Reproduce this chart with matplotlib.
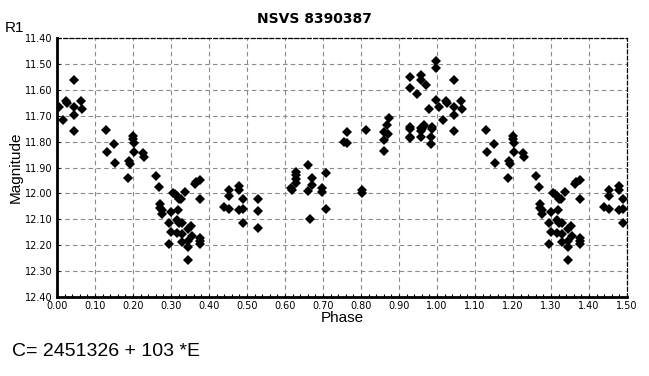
import matplotlib
matplotlib.use("Agg")
import matplotlib.pyplot as plt
from matplotlib.ticker import MultipleLocator
import numpy as np

# phase in [0, 1) and R1 magnitude
phase = [
    0.006, 0.015, 0.024, 0.026, 0.044, 0.044, 0.046, 0.046, 0.064, 0.065,
    0.130, 0.131, 0.151, 0.152, 0.188, 0.190, 0.191, 0.201, 0.201, 0.202,
    0.202, 0.227, 0.228, 0.260, 0.268, 0.270, 0.270, 0.275, 0.277, 0.299,
    0.296, 0.299, 0.296, 0.306, 0.311, 0.317, 0.320, 0.327, 0.318, 0.336,
    0.317, 0.322, 0.329, 0.317, 0.329, 0.329, 0.346, 0.352, 0.346, 0.346,
    0.346, 0.356, 0.362, 0.367, 0.375, 0.375, 0.375, 0.375, 0.375, 0.439,
    0.453, 0.452, 0.452, 0.480, 0.480, 0.480, 0.490, 0.490, 0.490, 0.529,
    0.529, 0.529, 0.617, 0.618, 0.628, 0.628, 0.628, 0.628, 0.660, 0.660,
    0.670, 0.670, 0.665, 0.698, 0.698, 0.707, 0.707, 0.755, 0.763, 0.762,
    0.803, 0.803, 0.812, 0.860, 0.860, 0.860, 0.869, 0.873, 0.871, 0.928,
    0.928, 0.948, 0.959, 0.959, 0.970, 0.997, 0.997, 0.997, 0.978, 0.928,
    0.928, 0.928, 0.928, 0.957, 0.957, 0.957, 0.963, 0.967, 0.960, 0.988,
    0.988, 0.985, 0.985,
]
mag = [
    11.666, 11.717, 11.643, 11.650, 11.562, 11.665, 11.697, 11.759, 11.643, 11.675,
    11.755, 11.841, 11.809, 11.883, 11.939, 11.874, 11.886, 11.780, 11.791, 11.805,
    11.840, 11.845, 11.861, 11.933, 11.975, 12.040, 12.055, 12.064, 12.078, 12.072,
    12.114, 12.149, 12.195, 11.997, 12.004, 12.010, 12.023, 12.023, 12.064, 11.994,
    12.103, 12.113, 12.115, 12.151, 12.158, 12.186, 12.138, 12.126, 12.183, 12.206,
    12.256, 12.164, 11.962, 11.956, 11.950, 12.023, 12.172, 12.183, 12.194, 12.051,
    12.059, 11.987, 12.010, 11.972, 11.987, 12.064, 12.020, 12.062, 12.113, 12.023,
    12.068, 12.135, 11.978, 11.985, 11.917, 11.930, 11.943, 11.960, 11.890, 11.991,
    11.942, 11.968, 12.100, 11.980, 11.995, 11.922, 12.061, 11.800, 11.807, 11.763,
    11.988, 12.000, 11.755, 11.763, 11.795, 11.836, 11.736, 11.707, 11.770, 11.551,
    11.594, 11.615, 11.541, 11.563, 11.581, 11.489, 11.517, 11.639, 11.675, 11.742,
    11.752, 11.781, 11.787, 11.746, 11.760, 11.781, 11.742, 11.735, 11.752, 11.742,
    11.752, 11.782, 11.810,
]

title = "NSVS 8390387"
ephemeris = "C= 2451326 + 103 *E"

phase = np.array(phase)
mag = np.array(mag)
# repeat the cycle up to phase 1.5
rep = phase + 1.0 <= 1.5
x = np.concatenate([phase, phase[rep] + 1.0])
y = np.concatenate([mag, mag[rep]])

fig = plt.figure(figsize=(6.49, 3.76), dpi=100)
ax = fig.add_axes([57 / 649, 79 / 376, 570 / 649, 259 / 376])

ax.plot(x, y, "D", color="black", ms=4.8, mew=0, zorder=3)

ax.set_xlim(0, 1.5)
ax.set_ylim(12.40, 11.40)
ax.xaxis.set_major_locator(MultipleLocator(0.1))
ax.yaxis.set_major_locator(MultipleLocator(0.1))
ax.xaxis.set_minor_locator(MultipleLocator(0.02))
ax.xaxis.set_major_formatter(lambda v, p: f"{v:.2f}")
ax.yaxis.set_major_formatter(lambda v, p: f"{v:.2f}")
ax.tick_params(which="major", length=2, width=0.8, labelsize=7, pad=3,
               direction="in", colors="black")
ax.tick_params(which="minor", length=2, width=0.8, direction="in")

ax.grid(True, which="major", color="#8a8a8a", linestyle=(0, (4, 3)), linewidth=0.8)
for s in ("left", "bottom"):
    ax.spines[s].set_linewidth(2)
for s in ("top", "right"):
    ax.spines[s].set_linewidth(0.9)
    ax.spines[s].set_linestyle((0, (3, 2)))

ax.set_xlabel("Phase", fontsize=11, family="Liberation Sans", labelpad=0)
ax.set_ylabel("Magnitude", fontsize=11, family="Liberation Sans", labelpad=2)
fig.text(314 / 649, 1 - 19 / 376, title, ha="center", va="center",
         fontsize=10, fontweight="bold", family="DejaVu Sans")
fig.text(5 / 649, 1 - 28 / 376, "R1", ha="left", va="center",
         fontsize=11, family="Liberation Sans")
fig.text(12 / 649, 1 - 352 / 376, ephemeris, ha="left", va="center",
         fontsize=14, family="Liberation Sans")

fig.savefig("out.png", dpi=100)
